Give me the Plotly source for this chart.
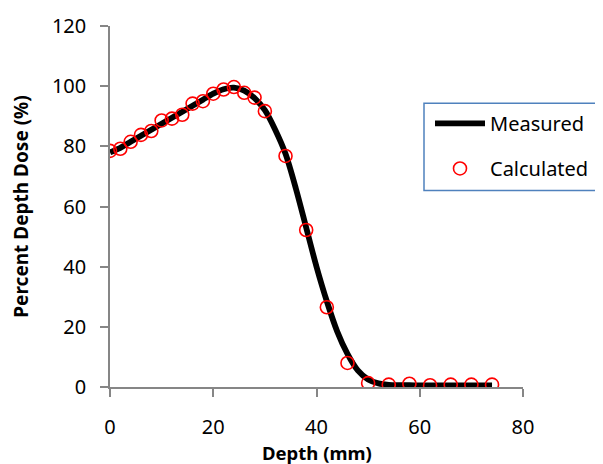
import plotly.graph_objects as go

# Measured depth-dose curve
meas_depth = [0, 2, 4, 6, 8, 10, 12, 14, 16, 18, 20, 22, 24, 26, 28, 30, 32, 34, 36, 38,
              40, 42, 44, 46, 48, 50, 52, 54, 56, 58, 60, 62, 64, 66, 68, 70, 72, 74]
meas_dose = [78, 79.5, 81.5, 83.5, 85.5, 87.5, 89.5, 91.5, 93.5, 95.5, 97.5, 99, 99.5, 98.5,
             96, 92, 85.5, 77.5, 66, 53, 40, 28.5, 18.5, 11, 5.5, 2.5, 1.2, 0.7, 0.6, 0.6,
             0.5, 0.5, 0.5, 0.5, 0.5, 0.5, 0.5, 0.5]

# Calculated points
calc_depth = [0, 2, 4, 6, 8, 10, 12, 14, 16, 18, 20, 22, 24, 26, 28, 30,
              34, 38, 42, 46, 50, 54, 58, 62, 66, 70, 74]
calc_dose = [78.5, 79.2, 81.5, 83.8, 85.1, 88.6, 89.2, 90.5, 94.2, 95.0, 97.5, 98.9, 99.7,
             97.8, 96.2, 91.7, 76.8, 52.2, 26.5, 8.0, 1.3, 0.8, 1.1, 0.6, 0.8, 0.8, 0.8]

x_ticks = [0, 20, 40, 60, 80]
y_ticks = [0, 20, 40, 60, 80, 100, 120]

FONT = "Noto Sans"

fig = go.Figure()
fig.add_trace(go.Scatter(
    x=meas_depth, y=meas_dose, mode="lines", name="Measured",
    line=dict(color="black", width=5.8, shape="spline", smoothing=0.8),
    legendgroup="m",
))
fig.add_trace(go.Scatter(
    x=calc_depth, y=calc_dose, mode="markers", name="Calculated",
    marker=dict(symbol="circle-open", size=13, color="#ff0000", line=dict(width=1.6, color="#ff0000")),
    legendgroup="c",
))

axis_common = dict(
    showgrid=False, zeroline=False, showline=True, linecolor="#868686", linewidth=1.5,
    ticks="outside", ticklen=8, tickwidth=1.5, tickcolor="#868686",
    tickfont=dict(family=FONT, size=20, color="black"),
    automargin=False,
)

# page has an 8px body margin; plot area should sit at page x 110..523, y 26..387
fig.update_layout(
    width=603, height=464,
    margin=dict(l=102, r=88, t=18, b=85),
    paper_bgcolor="white", plot_bgcolor="white",
    font=dict(family=FONT, color="black"),
    xaxis=dict(range=[0, 80], tickvals=x_ticks, ticklabelstandoff=13, **axis_common),
    yaxis=dict(range=[0, 120], tickvals=y_ticks, ticklabelstandoff=10,
               title=dict(text="<b>Percent Depth Dose (%)</b>", font=dict(family=FONT, size=19), standoff=24),
               **axis_common),
    showlegend=True,
    legend=dict(
        x=(430 - 110) / 413, y=(387.3 - 104) / 361.3, xanchor="left", yanchor="top",
        bgcolor="rgba(0,0,0,0)", borderwidth=0,
        font=dict(family=FONT, size=20, color="black"),
        tracegroupgap=16, itemwidth=50,
    ),
    annotations=[dict(text="<b>Depth (mm)</b>", xref="paper", yref="paper",
                      x=0.5, y=(387.3 - 453) / 361.3, xanchor="center", yanchor="middle",
                      showarrow=False, font=dict(family=FONT, size=18.5, color="black"))],
    shapes=[dict(type="rect", xref="paper", yref="paper",
                 x0=(424 - 110) / 413, x1=(620 - 110) / 413,
                 y0=(387.3 - 190.7) / 361.3, y1=(387.3 - 103.3) / 361.3,
                 line=dict(color="#4f81bd", width=1.5), fillcolor="white", layer="below")],
)

fig.write_html("out.html")
